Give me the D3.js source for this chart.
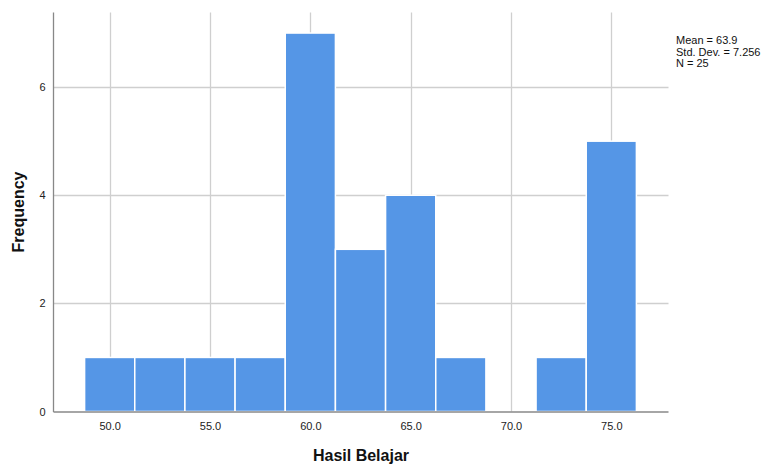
<!DOCTYPE html>
<html><head><meta charset="utf-8">
<script src="https://cdn.jsdelivr.net/npm/d3@7"></script>
<style>body{margin:0;background:#fff;} svg{display:block;font-family:"Liberation Sans",Arial,sans-serif;}</style>
</head><body>
<script>
const binCenters = [50, 52.5, 55, 57.5, 60, 62.5, 65, 67.5, 70, 72.5, 75];
const frequencies = [1, 1, 1, 1, 7, 3, 4, 1, 0, 1, 5];
const binWidth = 2.5;
const xTicks = [50, 55, 60, 65, 70, 75];
const yTicks = [0, 2, 4, 6];
const statsLines = ["Mean = 63.9", "Std. Dev. = 7.256", "N = 25"];

const W = 763, H = 466;
const L = 53.5, R = 668.5, T = 12.5, B = 411.5;
const svg = d3.select("body").append("svg").attr("width", W).attr("height", H);
const x = d3.scaleLinear().domain([47.2, 77.85]).range([L, R]);
const y = d3.scaleLinear().domain([0, 7.38]).range([B, T]);

const grid = "#cfcfcf";
// vertical grid
svg.append("g").selectAll("line").data(xTicks).join("line")
  .attr("x1", d => Math.round(x(d)) + 0.5).attr("x2", d => Math.round(x(d)) + 0.5)
  .attr("y1", T).attr("y2", B).attr("stroke", grid).attr("stroke-width", 1.3);
// horizontal grid
svg.append("g").selectAll("line").data(yTicks.filter(d => d > 0)).join("line")
  .attr("x1", L).attr("x2", R)
  .attr("y1", d => Math.round(y(d)) + 0.5).attr("y2", d => Math.round(y(d)) + 0.5)
  .attr("stroke", grid).attr("stroke-width", 1.3);

// bars
svg.append("g").selectAll("rect").data(binCenters.map((c, i) => ({c, f: frequencies[i]})).filter(d => d.f > 0)).join("rect")
  .attr("x", d => x(d.c - binWidth / 2))
  .attr("width", d => x(d.c + binWidth / 2) - x(d.c - binWidth / 2))
  .attr("y", d => y(d.f))
  .attr("height", d => y(0) - y(d.f))
  .attr("fill", "#5596e6").attr("stroke", "#ffffff").attr("stroke-width", 1.5);

// axes lines
svg.append("line").attr("x1", L).attr("x2", L).attr("y1", T).attr("y2", B + 0.5).attr("stroke", "#888").attr("stroke-width", 1.3);
svg.append("line").attr("x1", L).attr("x2", R).attr("y1", B + 0.5).attr("y2", B + 0.5).attr("stroke", "#888").attr("stroke-width", 1.3);

// axis generators for labels (no tick lines)
const xAxis = d3.axisBottom(x).tickValues(xTicks).tickFormat(d3.format(".1f")).tickSize(0).tickPadding(11);
const gx = svg.append("g").attr("transform", `translate(0,${B})`).call(xAxis);
gx.select(".domain").remove();
gx.selectAll("text").attr("font-size", 11).attr("fill", "#222").attr("font-family", "Liberation Sans, Arial, sans-serif");

const yAxis = d3.axisLeft(y).tickValues(yTicks).tickFormat(d3.format("d")).tickSize(0).tickPadding(8);
const gy = svg.append("g").attr("transform", `translate(${L},0)`).call(yAxis);
gy.select(".domain").remove();
gy.selectAll("text").attr("font-size", 11).attr("fill", "#222").attr("font-family", "Liberation Sans, Arial, sans-serif");

// titles
svg.append("text").attr("x", (L + R) / 2).attr("y", 461).attr("text-anchor", "middle")
  .attr("font-size", 16).attr("font-weight", "bold").attr("fill", "#111").text("Hasil Belajar");
svg.append("text").attr("transform", `translate(24,${(T + B) / 2}) rotate(-90)`).attr("text-anchor", "middle")
  .attr("font-size", 16).attr("font-weight", "bold").attr("fill", "#111").text("Frequency");

// stats
svg.append("g").selectAll("text").data(statsLines).join("text")
  .attr("x", 676).attr("y", (d, i) => 44 + i * 11.5)
  .attr("font-size", 11).attr("fill", "#111").text(d => d);
</script>
</body></html>
